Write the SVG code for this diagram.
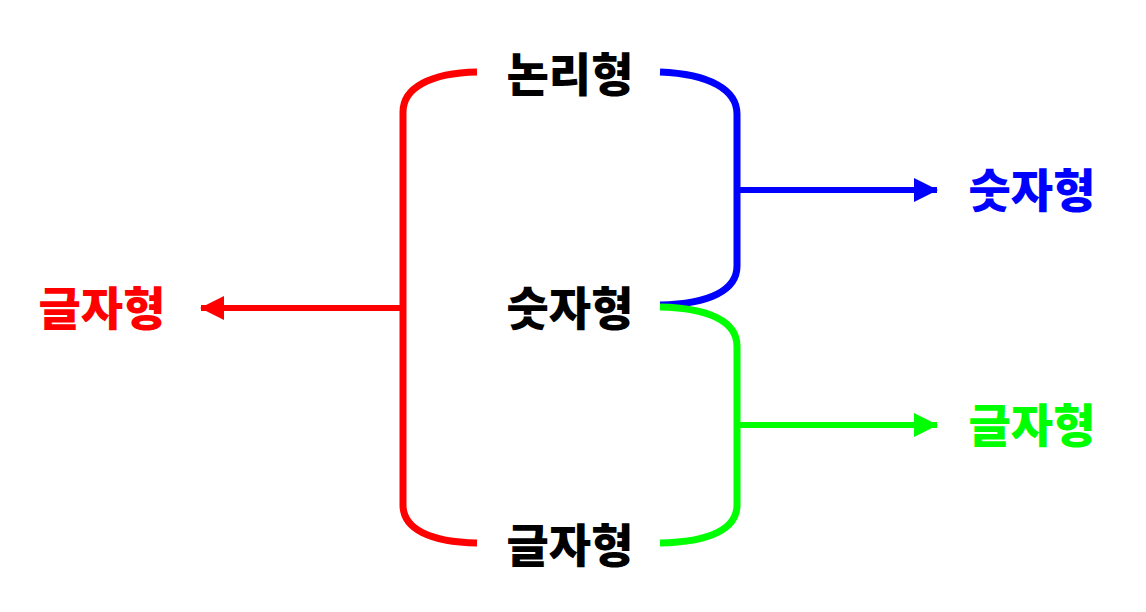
<svg xmlns="http://www.w3.org/2000/svg" width="1146" height="612" viewBox="0 0 1146 612">
<style>
.lbl{font-family:"Noto Sans CJK KR","Noto Sans",sans-serif;font-weight:900;font-size:46px;text-anchor:middle}
.br{fill:none;stroke-width:7;stroke-linecap:butt}
.ar{fill:none;stroke-width:6}
</style>
<defs>
<marker id="mr" markerUnits="userSpaceOnUse" markerWidth="24" markerHeight="24" refX="23" refY="12" orient="auto"><path d="M0,0 L24,12 L0,24 z" fill="#ff0000"/></marker>
<marker id="mb" markerUnits="userSpaceOnUse" markerWidth="24" markerHeight="24" refX="23" refY="12" orient="auto"><path d="M0,0 L24,12 L0,24 z" fill="#0000ff"/></marker>
<marker id="mg" markerUnits="userSpaceOnUse" markerWidth="24" markerHeight="24" refX="23" refY="12" orient="auto"><path d="M0,0 L24,12 L0,24 z" fill="#00ff00"/></marker>
</defs>
<rect width="1146" height="612" fill="#ffffff"/>
<g id="connectors">
<path class="br" stroke="#ff0000" d="M477,72 C430,73 403,88 403,112 L403,505 C403,529 430,542 477,543"/>
<path class="ar" stroke="#ff0000" d="M403,308 L201,308" marker-end="url(#mr)"/>
<path class="br" stroke="#0000ff" d="M660,72 C710,74 737,90 737,114 L737,266 C737,290 710,304 660,305"/>
<path class="ar" stroke="#0000ff" d="M737,190 L937,190" marker-end="url(#mb)"/>
<path class="br" stroke="#00ff00" d="M660,307 C710,308 737,322 737,346 L737,505 C737,529 710,542 660,543"/>
<path class="ar" stroke="#00ff00" d="M737,425 L937,425" marker-end="url(#mg)"/>
</g>
<g id="n-logic"><text class="lbl" x="570" y="91" fill="#000000">논리형</text></g>
<g id="n-number"><text class="lbl" x="570" y="325" fill="#000000">숫자형</text></g>
<g id="n-char"><text class="lbl" x="570" y="562" fill="#000000">글자형</text></g>
<g id="out-char-left"><text class="lbl" x="102" y="325" fill="#ff0000">글자형</text></g>
<g id="out-number-right"><text class="lbl" x="1032" y="207" fill="#0000ff">숫자형</text></g>
<g id="out-char-right"><text class="lbl" x="1032" y="442" fill="#00ff00">글자형</text></g>
</svg>
